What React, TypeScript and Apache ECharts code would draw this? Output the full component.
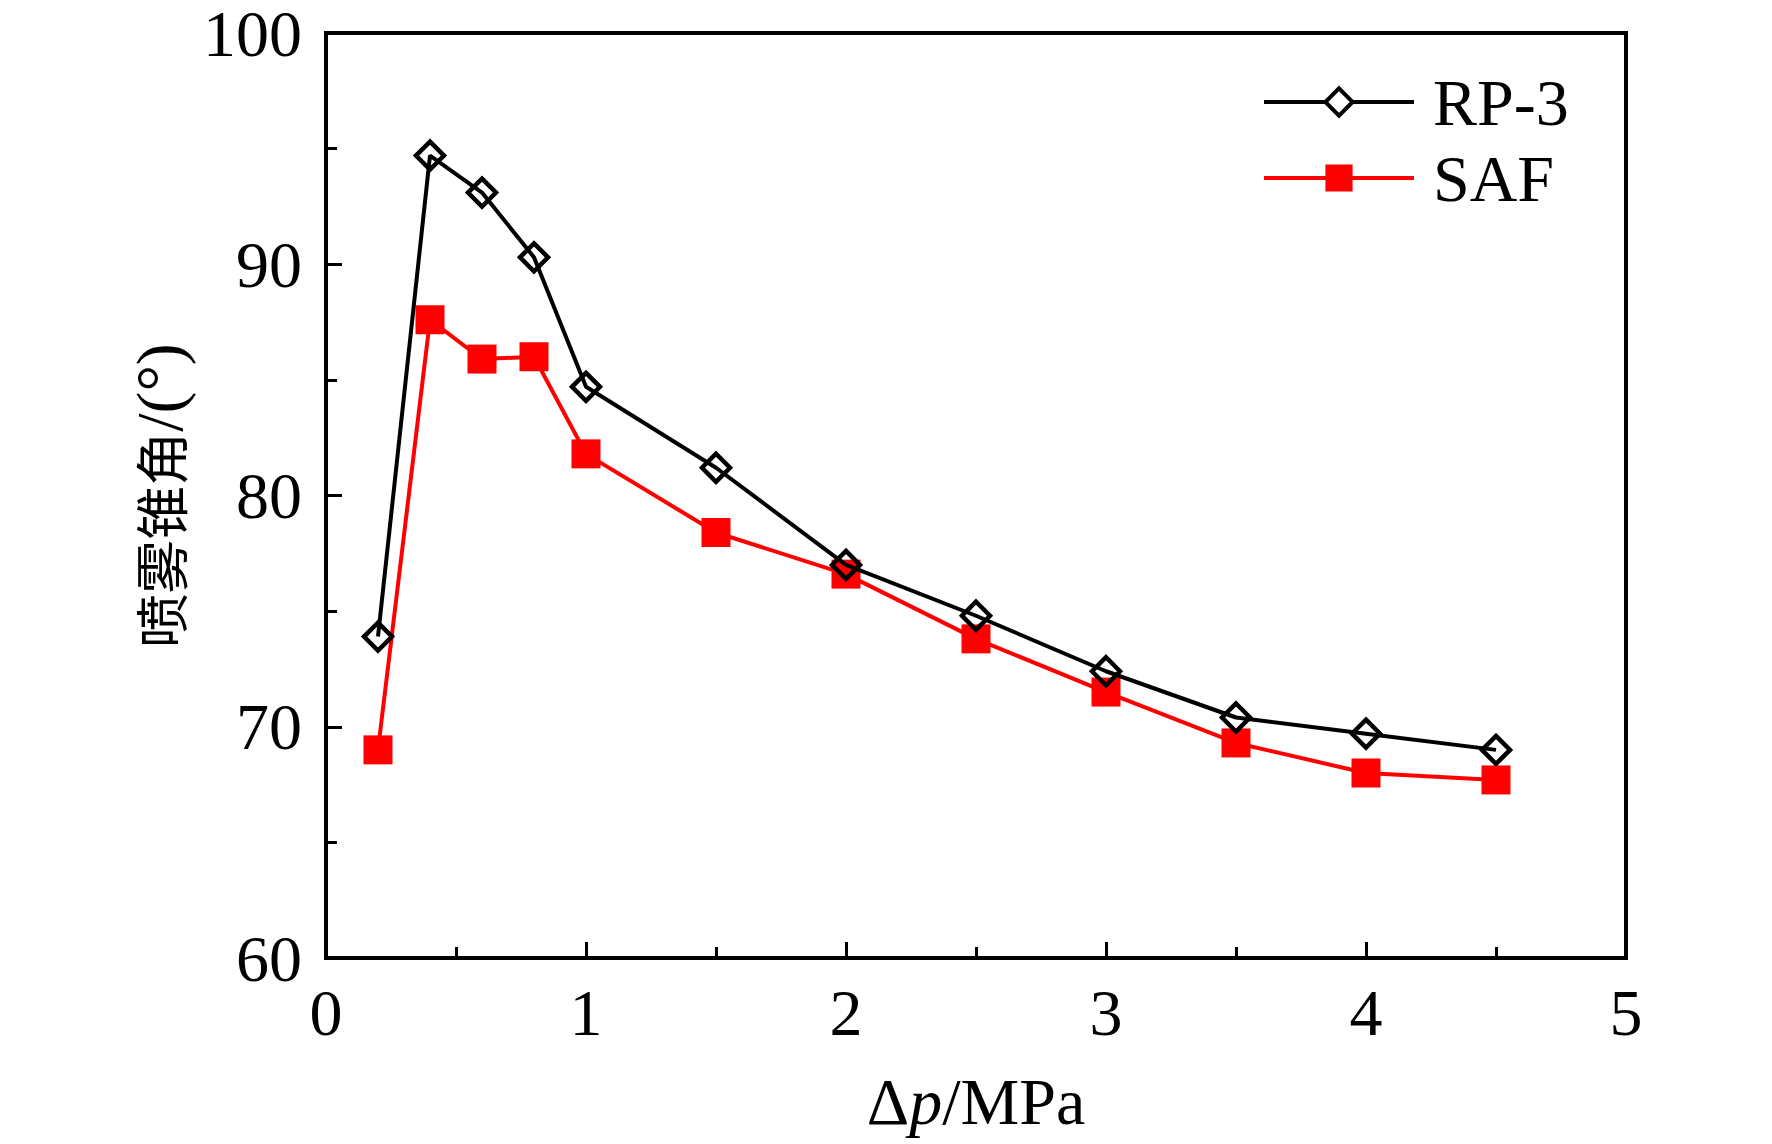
import React, { useEffect, useRef } from "react";
import * as echarts from "echarts";

const pressures = [0.2, 0.4, 0.6, 0.8, 1.0, 1.5, 2.0, 2.5, 3.0, 3.5, 4.0, 4.5];
const rp3Values = [73.9, 94.7, 93.1, 90.3, 84.7, 81.2, 77.0, 74.8, 72.4, 70.4, 69.7, 69.0];
const safValues = [69.0, 87.6, 85.9, 86.0, 81.8, 78.4, 76.6, 73.8, 71.5, 69.3, 68.0, 67.7];
const seriesNames = ["RP-3", "SAF"];
const xTicks = { min: 0, max: 5, interval: 1 };
const yTicks = { min: 60, max: 100, interval: 10 };

const serif = "'Liberation Serif', 'Times New Roman', serif";
const cjk = "'Noto Sans CJK SC', sans-serif";

export default function App() {
  const ref = useRef<HTMLDivElement>(null);
  useEffect(() => {
    if (!ref.current) return;
    const chart = echarts.init(ref.current, null, { renderer: "svg" });
    const rp3Data = pressures.map((p, i) => [p, rp3Values[i]]);
    const safData = pressures.map((p, i) => [p, safValues[i]]);
    const axisCommon = {
      axisLine: { show: true, onZero: false, lineStyle: { color: "#000", width: 4 } },
      axisTick: { show: true, inside: true, length: 16, lineStyle: { color: "#000", width: 3 } },
      minorTick: { show: true, splitNumber: 2, length: 11, lineStyle: { color: "#000", width: 3 } },
      splitLine: { show: false },
      minorSplitLine: { show: false },
    };
    chart.setOption({
      animation: false,
      backgroundColor: "#fff",
      grid: {
        left: 326,
        right: 146,
        top: 33,
        bottom: 186,
        show: true,
        borderColor: "#000",
        borderWidth: 4,
        containLabel: false,
      },
      legend: {
        orient: "vertical",
        left: 1257,
        top: 64,
        itemWidth: 150,
        itemHeight: 34,
        itemGap: 10,
        data: [
          {
            name: seriesNames[0],
            itemStyle: { color: "#fff", borderColor: "#000", borderWidth: 4 },
            lineStyle: { width: 4, color: "#000" },
          },
          {
            name: seriesNames[1],
            lineStyle: { width: 4, color: "#ff0000" },
          },
        ],
        textStyle: {
          fontFamily: serif,
          fontSize: 66,
          lineHeight: 66,
          color: "#000",
          padding: [0, 0, 0, 14],
        },
      },
      xAxis: {
        type: "value",
        min: xTicks.min,
        max: xTicks.max,
        interval: xTicks.interval,
        ...axisCommon,
        axisLabel: {
          fontFamily: serif,
          fontSize: 66,
          lineHeight: 52,
          color: "#000",
          margin: 28,
        },
        name: "{a|Δ}{i|p}{a|/MPa}",
        nameLocation: "middle",
        nameGap: 110,
        nameTextStyle: {
          rich: {
            a: { fontFamily: serif, fontSize: 66, color: "#000" },
            i: { fontFamily: serif, fontSize: 66, fontStyle: "italic", color: "#000" },
          },
        },
      },
      yAxis: {
        type: "value",
        min: yTicks.min,
        max: yTicks.max,
        interval: yTicks.interval,
        ...axisCommon,
        axisLabel: {
          fontFamily: serif,
          fontSize: 66,
          lineHeight: 50,
          color: "#000",
          margin: 24,
        },
        name: "{c|喷雾锥角}{a|/(°)}",
        nameLocation: "middle",
        nameGap: 128,
        nameRotate: 90,
        nameTextStyle: {
          rich: {
            c: { fontFamily: cjk, fontSize: 54, color: "#000" },
            a: { fontFamily: serif, fontSize: 66, color: "#000" },
          },
        },
      },
      series: [
        {
          name: seriesNames[0],
          type: "line",
          data: rp3Data,
          symbol: "diamond",
          symbolSize: 28,
          lineStyle: { color: "#000", width: 4 },
          itemStyle: { color: "rgba(255,255,255,0)", borderColor: "#000", borderWidth: 4.5 },
          z: 3,
        },
        {
          name: seriesNames[1],
          type: "line",
          data: safData,
          symbol: "rect",
          symbolSize: 29,
          lineStyle: { color: "#ff0000", width: 4 },
          itemStyle: { color: "#ff0000", borderWidth: 0 },
          z: 2,
        },
      ],
    });
    return () => chart.dispose();
  }, []);
  return (
    <div
      ref={ref}
      style={{ position: "fixed", left: 0, top: 0, width: 1772, height: 1144, background: "#fff" }}
    />
  );
}
